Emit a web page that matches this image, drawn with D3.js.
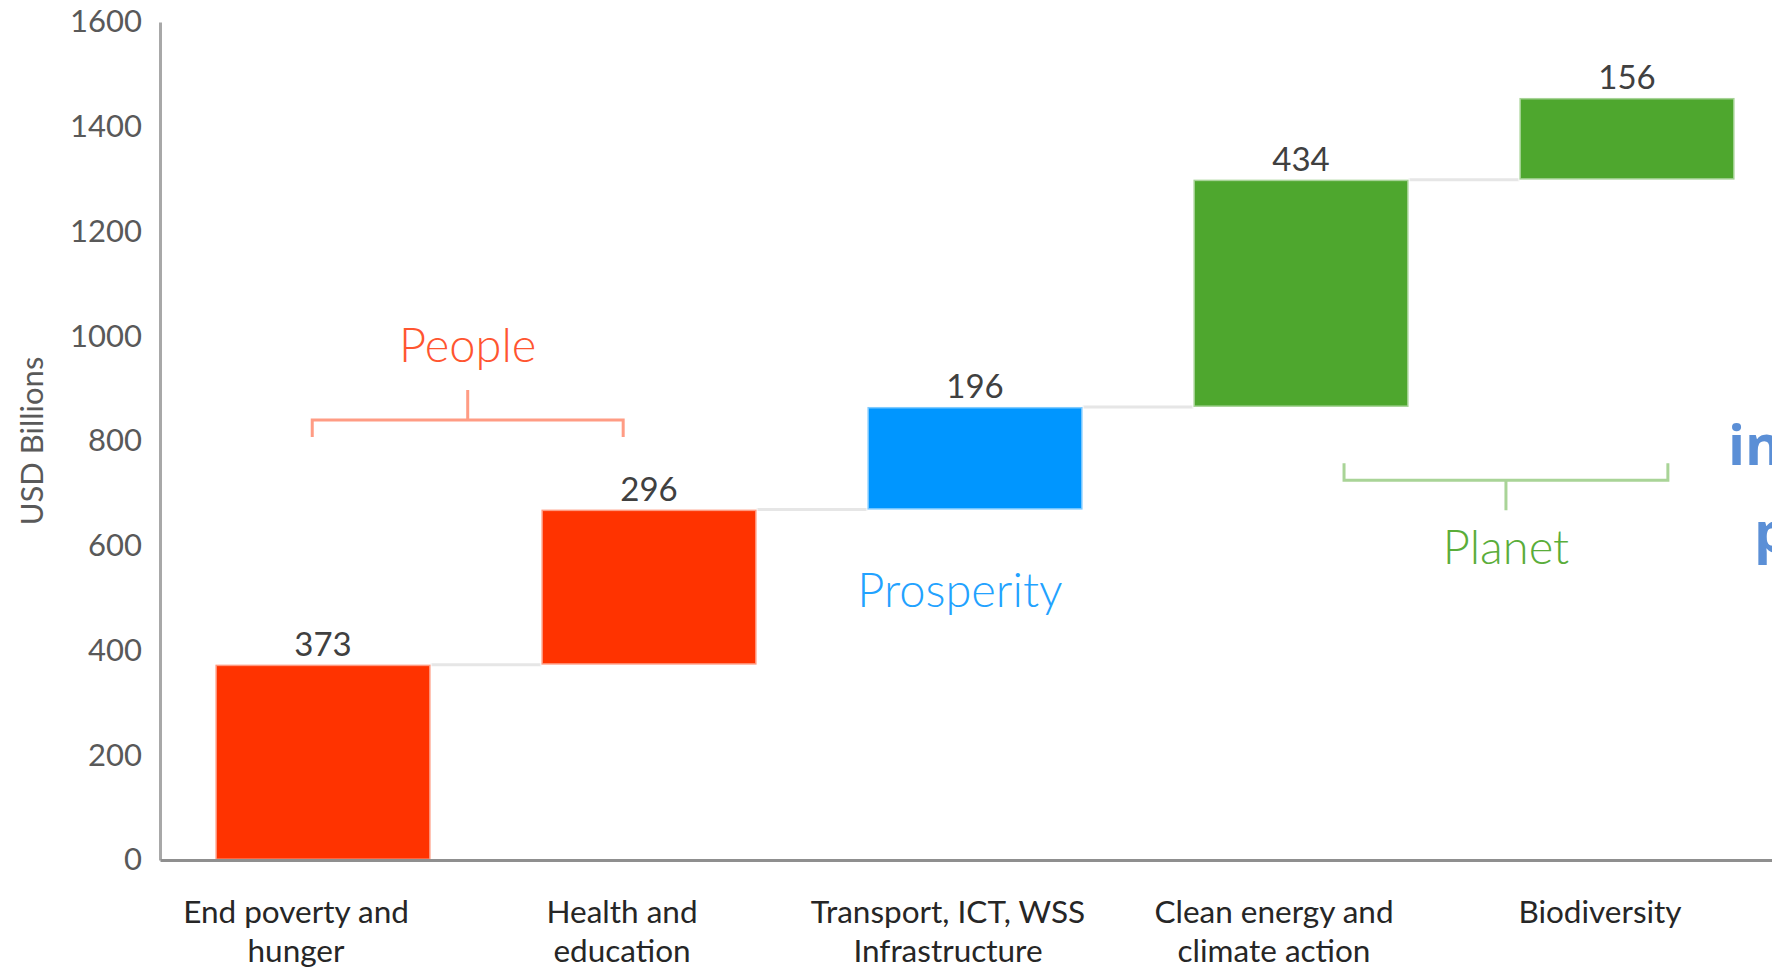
<!DOCTYPE html>
<html>
<head>
<meta charset="utf-8">
<script src="https://cdn.jsdelivr.net/npm/d3@7"></script>
<style>
  html, body { margin: 0; padding: 0; background: #ffffff; overflow: hidden; }
  svg { display: block; font-family: Lato, "Liberation Sans", sans-serif; }
</style>
</head>
<body>
<svg id="chart" width="1772" height="972"></svg>
<script>
// Annual investment needs by SDG area (USD billions), stacked as a waterfall
const categories = [
  "End poverty and hunger",
  "Health and education",
  "Transport, ICT, WSS Infrastructure",
  "Clean energy and climate action",
  "Biodiversity"
];
const categoryLines = [
  ["End poverty and", "hunger"],
  ["Health and", "education"],
  ["Transport, ICT, WSS", "Infrastructure"],
  ["Clean energy and", "climate action"],
  ["Biodiversity"]
];
const values = [373, 296, 196, 434, 156];
const pillars = ["People", "People", "Prosperity", "Planet", "Planet"];
const yTicks = [0, 200, 400, 600, 800, 1000, 1200, 1400, 1600];
const yTitle = "USD Billions";

const pillarColors = { People: "#ff3300", Prosperity: "#0096ff", Planet: "#4ea72e" };
const pillarTextColors = { People: "#ff5530", Prosperity: "#22a2ff", Planet: "#5aad3a" };
const braceColors = { People: "#ff9c84", Planet: "#a9d497" };

// running totals for the floating bars
let acc = 0;
const steps = values.map((v, i) => {
  const start = acc;
  acc += v;
  return { cat: categories[i], lines: categoryLines[i], value: v, start, end: acc, pillar: pillars[i] };
});

const svg = d3.select("#chart");

const x = d3.scaleBand()
  .domain(categories)
  .range([160, 1790])
  .paddingInner(0.34)
  .paddingOuter(0.17);

const y = d3.scaleLinear()
  .domain([0, 1600])
  .range([860, 22]);

const bw = x.bandwidth();

// y axis
const yAxis = svg.append("g")
  .attr("transform", "translate(160,0)")
  .call(d3.axisLeft(y).tickValues(yTicks).tickFormat(d3.format("d"))
    .tickSize(0).tickSizeOuter(0).tickPadding(18));
yAxis.select(".domain").attr("stroke", "#a8a8a8").attr("stroke-width", 3);
yAxis.selectAll(".tick text")
  .attr("fill", "#595959")
  .style("font-size", "31px")
  .style("font-family", "Lato, 'Liberation Sans', sans-serif");

svg.append("text")
  .attr("transform", `translate(43,441) rotate(-90)`)
  .attr("text-anchor", "middle")
  .attr("fill", "#595959")
  .style("font-size", "31px")
  .text(yTitle);

// connectors between consecutive bars
svg.append("g").selectAll("line")
  .data(steps.slice(0, -1))
  .join("line")
  .attr("x1", (d) => x(d.cat) + bw)
  .attr("x2", (d, i) => x(steps[i + 1].cat))
  .attr("y1", (d) => y(d.end))
  .attr("y2", (d) => y(d.end))
  .attr("stroke", "#e6e6e6")
  .attr("stroke-width", 3);

// bars
svg.append("g").selectAll("rect")
  .data(steps)
  .join("rect")
  .attr("x", (d) => x(d.cat))
  .attr("y", (d) => y(d.end))
  .attr("width", bw)
  .attr("height", (d) => y(d.start) - y(d.end))
  .attr("fill", (d) => pillarColors[d.pillar])
  .attr("stroke", "rgba(255,255,255,0.5)")
  .attr("stroke-width", 3);

// value labels
svg.append("g").selectAll("text")
  .data(steps)
  .join("text")
  .attr("x", (d) => x(d.cat) + bw / 2)
  .attr("y", (d) => y(d.end) - 9)
  .attr("text-anchor", "middle")
  .attr("fill", "#404040")
  .style("font-size", "33px")
  .text((d) => d.value);

// x axis baseline with wrapped category labels
const xAxis = svg.append("g")
  .attr("transform", "translate(0,860)")
  .call(d3.axisBottom(x).tickSize(0).tickSizeOuter(0).tickFormat(""));
xAxis.select(".domain").attr("stroke", "#8f8f8f").attr("stroke-width", 3);
xAxis.selectAll(".tick text").each(function (d, i) {
  const t = d3.select(this)
    .attr("y", 0)
    .attr("dy", null)
    .attr("fill", "#262626")
    .style("font-size", "31.5px")
    .style("font-family", "Lato, 'Liberation Sans', sans-serif");
  steps[i].lines.forEach((line, j) => {
    t.append("tspan")
      .attr("x", -27)
      .attr("y", 63 + j * 39)
      .text(line);
  });
});

// pillar annotations: braces spanning their bars
const braces = [
  { pillar: "People", from: 0, fromFrac: 0.45, to: 1, toFrac: 0.38, level: 840, dir: -1 },
  { pillar: "Planet", from: 3, fromFrac: 0.70, to: 4, toFrac: 0.69, level: 725, dir: 1 }
];
const ann = svg.append("g");
braces.forEach((b) => {
  const x0 = x(categories[b.from]) + b.fromFrac * bw;
  const x1 = x(categories[b.to]) + b.toFrac * bw;
  const xm = (x0 + x1) / 2;
  const yb = y(b.level);
  const endLen = 17 * -b.dir;   // ends point away from the label
  const tickLen = 30 * b.dir;   // centre tick points toward the label
  ann.append("path")
    .attr("d", `M${x0},${yb + endLen} L${x0},${yb} L${x1},${yb} L${x1},${yb + endLen} M${xm},${yb} L${xm},${yb + tickLen}`)
    .attr("fill", "none")
    .attr("stroke", braceColors[b.pillar])
    .attr("stroke-width", 3);
  ann.append("text")
    .attr("x", xm)
    .attr("y", b.dir < 0 ? yb + tickLen - 28 : yb + tickLen + 54)
    .attr("text-anchor", "middle")
    .attr("fill", pillarTextColors[b.pillar])
    .style("font-size", "47px")
    .style("font-weight", 300)
    .text(b.pillar);
});

// prosperity label sits under its bar
const pros = steps[2];
ann.append("text")
  .attr("x", x(pros.cat) + 0.43 * bw)
  .attr("y", y(pros.start) + 97)
  .attr("text-anchor", "middle")
  .attr("fill", pillarTextColors.Prosperity)
  .style("font-size", "47px")
  .style("font-weight", 300)
  .text("Prosperity");

// side caption running off the right edge
const side = svg.append("g")
  .attr("fill", "#5b8fd6")
  .style("font-size", "56px")
  .style("font-weight", 700)
  .style("font-family", "'Open Sans', 'Noto Sans', sans-serif");
side.append("text").attr("x", 1728).attr("y", 465).text("in");
side.append("text").attr("x", 1754).attr("y", 552).text("p");
</script>
</body>
</html>
